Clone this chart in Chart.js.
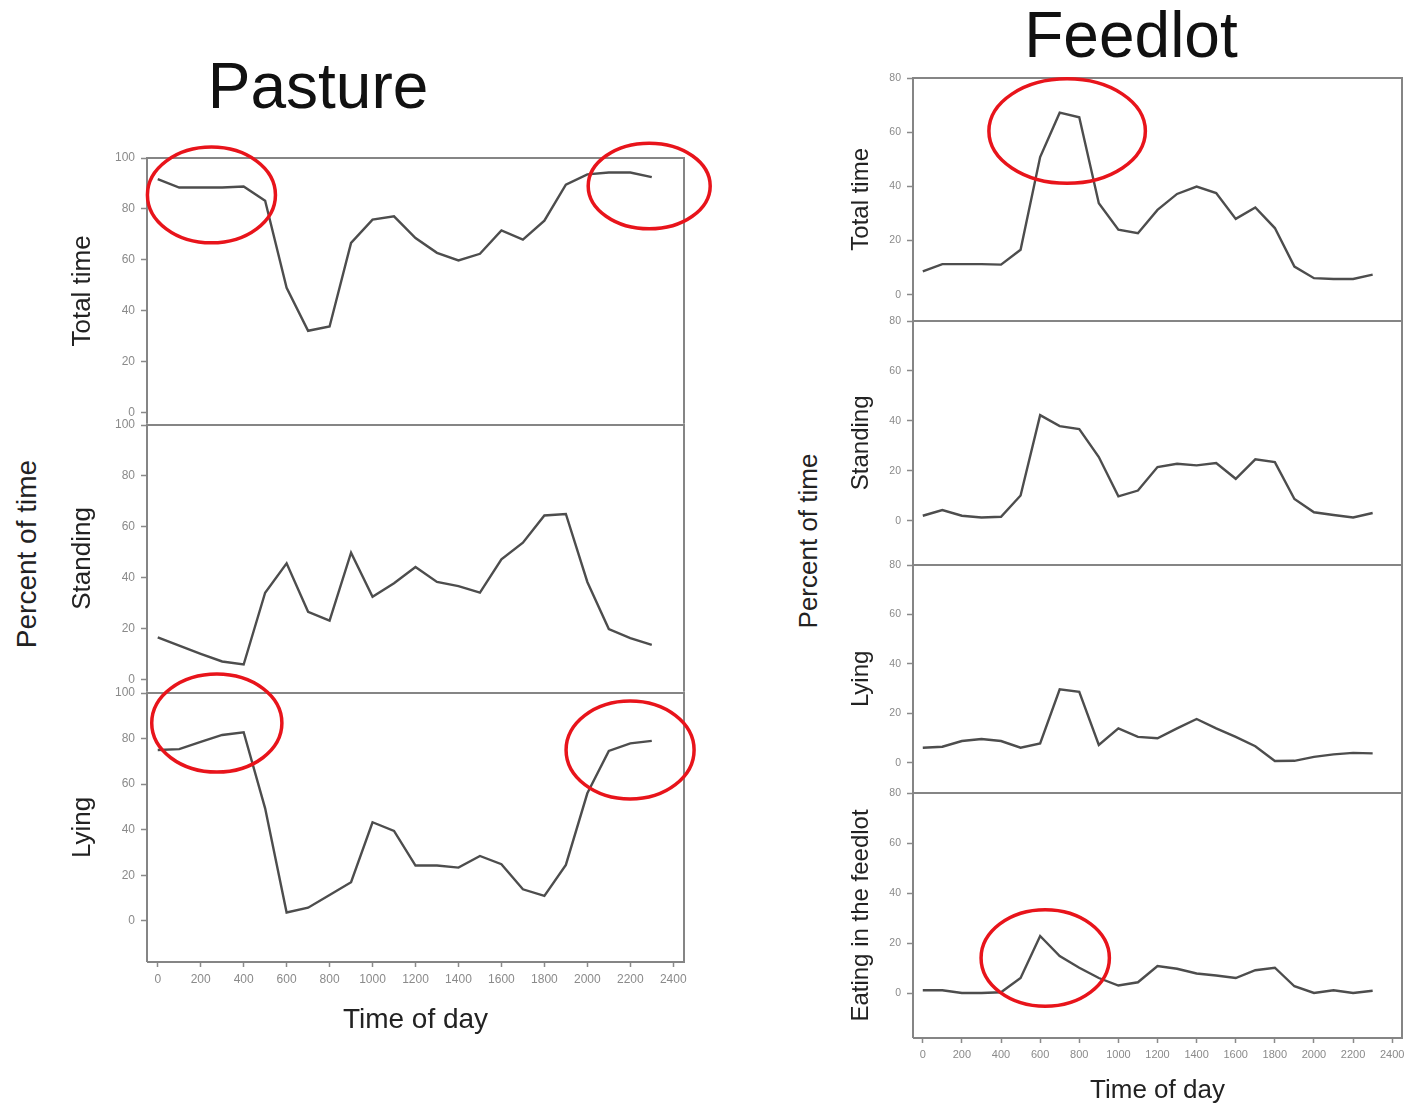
<!DOCTYPE html>
<html><head><meta charset="utf-8">
<script src="https://cdn.jsdelivr.net/npm/chart.js@4"></script>
<style>
html,body{margin:0;padding:0;background:#fff}
body{width:1416px;height:1103px;position:relative;overflow:hidden;font-family:'Liberation Sans',Arial,sans-serif}
canvas{position:absolute}
.t{position:absolute;color:#111;white-space:nowrap;line-height:1}
.rot{transform:translate(-50%,-50%) rotate(-90deg);transform-origin:center center}
</style></head>
<body>
<div class="t" style="left:318px;top:54px;font-size:64px;line-height:64px;transform:translateX(-50%)">Pasture</div>
<div class="t" style="left:1131px;top:3px;font-size:64px;line-height:64px;transform:translateX(-50%)">Feedlot</div>
<div class="t rot" style="left:27px;top:554px;font-size:28px;color:#222">Percent of time</div>
<div class="t rot" style="left:808px;top:541px;font-size:26px;color:#222">Percent of time</div>

<canvas id="L1" width="730" height="309" style="left:0;top:128px"></canvas>
<canvas id="L2" width="730" height="310" style="left:0;top:395px"></canvas>
<canvas id="L3" width="730" height="384" style="left:0;top:663px"></canvas>
<canvas id="R1" width="636" height="285" style="left:780px;top:48px"></canvas>
<canvas id="R2" width="636" height="286" style="left:780px;top:291px"></canvas>
<canvas id="R3" width="636" height="270" style="left:780px;top:535px"></canvas>
<canvas id="R4" width="636" height="343" style="left:780px;top:763px"></canvas>

<script>
// ---- categories ----
const hours = [0,100,200,300,400,500,600,700,800,900,1000,1100,1200,1300,1400,1500,1600,1700,1800,1900,2000,2100,2200,2300];

// ---- Pasture series (% of time) ----
const pastureTotal    = [91.7,88.4,88.4,88.4,88.8,83.2,49.1,32.2,33.9,66.7,75.8,77.1,68.6,62.8,59.8,62.4,71.6,68.0,75.4,89.5,93.6,94.3,94.3,92.5];
const pastureStanding = [16.7,13.4,10.2,7.2,6.0,34.2,45.7,26.7,23.2,49.9,32.6,37.9,44.3,38.4,36.8,34.2,47.3,53.8,64.5,65.1,38.4,19.9,16.4,13.7];
const pastureLying    = [75.0,75.4,78.6,81.6,82.8,49.4,3.7,5.8,11.4,17.0,43.3,39.5,24.3,24.3,23.4,28.5,24.9,13.9,11.0,24.6,56.0,74.6,77.9,79.0];

// ---- Feedlot series (% of time) ----
const feedlotTotal    = [8.6,11.3,11.3,11.3,11.1,16.6,50.8,67.2,65.5,33.8,24.0,22.7,31.3,37.2,39.9,37.5,28.0,32.2,24.6,10.4,6.1,5.8,5.8,7.4];
const feedlotStanding = [2.0,4.3,2.0,1.3,1.6,10.1,42.3,37.9,36.7,25.5,9.8,12.1,21.5,22.8,22.2,23.1,16.8,24.6,23.5,8.7,3.4,2.3,1.3,3.1];
const feedlotLying    = [6.1,6.5,8.8,9.6,8.8,6.1,7.8,29.7,28.7,7.2,13.9,10.5,9.9,13.9,17.7,13.9,10.5,6.7,0.7,0.8,2.4,3.4,4.0,3.8];
const feedlotEating   = [1.1,1.1,0.0,0.0,0.3,6.0,22.8,14.8,10.1,6.0,3.0,4.3,10.8,9.7,7.8,7.0,6.0,9.1,10.1,2.7,0.0,1.1,0.0,0.9];

// ---- tick labels ----
const xTicks = [0,200,400,600,800,1000,1200,1400,1600,1800,2000,2200,2400];
const pastureYTicks = [0,20,40,60,80,100];
const feedlotYTicks = [0,20,40,60,80];

// ---- highlight ellipses (data units: centre x/y, half-width, half-height) ----
const ellipsesL1 = [{x:250,y:85.5,rx:298,ry:18.8},{x:2288,y:89,rx:284,ry:16.8}];
const ellipsesL3 = [{x:275,y:86.8,rx:303,ry:21.5},{x:2199,y:75,rx:298,ry:21.5}];
const ellipsesR1 = [{x:738,y:60.4,rx:400,ry:19.3}];
const ellipsesR4 = [{x:626,y:14,rx:328,ry:19.3}];

const framePlugin = {
  id:'frame',
  afterDraw(chart, args, opts){
    const {ctx, chartArea:a} = chart;
    ctx.save();
    ctx.strokeStyle = '#858585';
    ctx.lineWidth = 2;
    ctx.beginPath();
    ctx.moveTo(a.left, a.bottom); ctx.lineTo(a.left, a.top); ctx.lineTo(a.right, a.top); ctx.lineTo(a.right, a.bottom);
    if (opts.bottom) ctx.lineTo(a.left, a.bottom);
    ctx.stroke();
    ctx.restore();
  }
};
const ellipsePlugin = {
  id:'ellipses',
  afterDraw(chart, args, opts){
    const items = opts.items || [];
    const {ctx} = chart; const xs = chart.scales.x, ys = chart.scales.y;
    ctx.save();
    ctx.strokeStyle = '#e8141b';
    ctx.lineWidth = 3.5;
    for (const e of items){
      const cx = xs.getPixelForValue(e.x), cy = ys.getPixelForValue(e.y);
      const rx = Math.abs(xs.getPixelForValue(e.x+e.rx)-cx), ry = Math.abs(ys.getPixelForValue(e.y+e.ry)-cy);
      ctx.beginPath(); ctx.ellipse(cx, cy, rx, ry, 0, 0, Math.PI*2); ctx.stroke();
    }
    ctx.restore();
  }
};

function panel(id, cfg){
  const pts = hours.map((h,i)=>({x:h, y:cfg.values[i]}));
  new Chart(document.getElementById(id), {
    type:'line',
    data:{datasets:[{data:pts, borderColor:'#4d4d4d', borderWidth:2.4, pointRadius:0, tension:0, fill:false}]},
    plugins:[framePlugin, ellipsePlugin],
    options:{
      responsive:false, animation:false, events:[],
      layout:{padding:cfg.padding},
      plugins:{legend:{display:false}, tooltip:{enabled:false},
        frame:{bottom:cfg.showX}, ellipses:{items:cfg.ellipses||[]}},
      scales:{
        x:{type:'linear', min:-50, max:2450, display:cfg.showX,
          afterBuildTicks:s=>{s.ticks = xTicks.map(v=>({value:v}));},
          afterFit:s=>{ if(cfg.showX) s.height = cfg.xH; },
          border:{display:false},
          grid:{drawOnChartArea:false, drawTicks:true, tickLength:5, tickColor:'#8a8a8a', tickWidth:1.5},
          ticks:{autoSkip:false, maxRotation:0, padding:5, color:'#8a8a8a', callback:v=>String(v), font:{family:'Liberation Sans', size:cfg.xTickSize}},
          title:{display:true, text:'Time of day', color:'#222', padding:0, font:{family:'Liberation Sans', size:cfg.xTitleSize}}
        },
        y:{type:'linear', min:cfg.yMin, max:cfg.yMax,
          afterBuildTicks:s=>{s.ticks = cfg.yTicks.map(v=>({value:v}));},
          afterFit:s=>{s.width = cfg.yW;},
          border:{display:false},
          grid:{drawOnChartArea:false, drawTicks:true, tickLength:6, tickColor:'#8a8a8a', tickWidth:1.5},
          ticks:{padding:6, color:'#8a8a8a', callback:v=>String(v), font:{family:'Liberation Sans', size:cfg.yTickSize}},
          title:{display:true, text:cfg.title, color:'#222', padding:0, font:{family:'Liberation Sans', size:cfg.titleSize}}
        }
      }
    }
  });
}

const LP = (top,bottom)=>({left:67, right:46, top, bottom});
const RP = (top,bottom)=>({left:67, right:14, top, bottom});
const Lbase = {yW:80, yMax:100, yTicks:pastureYTicks, yTickSize:12, titleSize:26, xTickSize:12, xTitleSize:28, xH:75};
const Rbase = {yW:66, yMax:80, yTicks:feedlotYTicks, yTickSize:10.5, titleSize:24, xTickSize:11, xTitleSize:26, xH:68};

panel('L1', Object.assign({}, Lbase, {values:pastureTotal, title:'Total time', yMin:-4.3, padding:LP(30,12), showX:false, ellipses:ellipsesL1}));
panel('L2', Object.assign({}, Lbase, {values:pastureStanding, title:'Standing', yMin:-4.7, padding:LP(30,12), showX:false}));
panel('L3', Object.assign({}, Lbase, {values:pastureLying, title:'Lying', yMin:-18, padding:LP(30,10), showX:true, ellipses:ellipsesL3}));
panel('R1', Object.assign({}, Rbase, {values:feedlotTotal, title:'Total time', yMin:-9.6, padding:RP(30,12), showX:false, ellipses:ellipsesR1}));
panel('R2', Object.assign({}, Rbase, {values:feedlotStanding, title:'Standing', yMin:-17.6, padding:RP(30,12), showX:false}));
panel('R3', Object.assign({}, Rbase, {values:feedlotLying, title:'Lying', yMin:-12.1, padding:RP(30,12), showX:false}));
panel('R4', Object.assign({}, Rbase, {values:feedlotEating, title:'Eating in the feedlot', yMin:-18, padding:RP(30,0), showX:true, ellipses:ellipsesR4}));
</script>
</body></html>
